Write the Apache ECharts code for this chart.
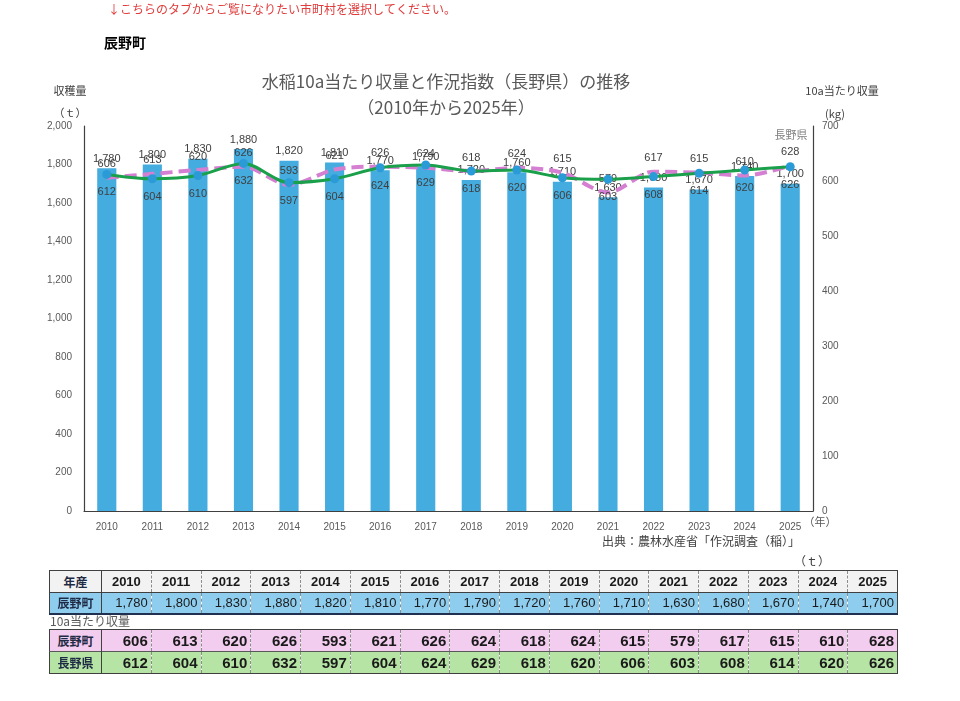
<!DOCTYPE html>
<html>
<head>
<meta charset="utf-8">
<script src="https://cdn.jsdelivr.net/npm/echarts@6/dist/echarts.min.js"></script>
<style>
  html, body { margin:0; padding:0; background:#fff; }
  #chart { position:absolute; left:0; top:0; width:960px; height:701px; }
  #tbl1, #tbl2 { position:absolute; left:49px; border-collapse:collapse; table-layout:fixed; font-family:"Liberation Sans Narrow","Liberation Sans","Noto Sans CJK JP",sans-serif; }
  #tbl1 { top:570px; }
  #tbl2 { top:629px; }
  td { padding:0 3px; box-sizing:border-box; white-space:nowrap; overflow:hidden; }
  td.lab { font-family:"Noto Sans CJK JP",sans-serif; font-weight:bold; text-align:center; font-size:12px; color:#1f2a44; border-right:1px solid #404040; }
  #lab10a { position:absolute; left:50px; top:612px; font-family:"Noto Sans CJK JP",sans-serif; font-size:12px; color:#595959; }
</style>
</head>
<body>
<div id="chart"></div>
<div id="lab10a">10a当たり収量</div>
<table id="tbl1"></table>
<table id="tbl2"></table>
<script>
const years = ['2010','2011','2012','2013','2014','2015','2016','2017','2018','2019','2020','2021','2022','2023','2024','2025'];
const harvest = [1780,1800,1830,1880,1820,1810,1770,1790,1720,1760,1710,1630,1680,1670,1740,1700];
const tatsunoYield = [606,613,620,626,593,621,626,624,618,624,615,579,617,615,610,628];
const naganoYield = [612,604,610,632,597,604,624,629,618,620,606,603,608,614,620,626];
const leftTicks = [0,200,400,600,800,1000,1200,1400,1600,1800,2000];
const rightTicks = [0,100,200,300,400,500,600,700];

const fmt = v => v.toLocaleString('en-US');
const jp = '"Noto Sans CJK JP", sans-serif';
const num = '"Liberation Sans", "Noto Sans CJK JP", sans-serif';

const chart = echarts.init(document.getElementById('chart'), null, {renderer:'canvas'});
chart.setOption({
  animation:false,
  grid:{left:84, right:147, top:126, bottom:190},
  xAxis:{
    type:'category', data:years, boundaryGap:true,
    axisLine:{lineStyle:{color:'#404040', width:1.2}},
    axisTick:{show:false},
    axisLabel:{color:'#595959', fontSize:10, margin:11, fontFamily:num}
  },
  yAxis:[
    {type:'value', min:leftTicks[0], max:leftTicks[leftTicks.length-1], interval:200,
     axisLine:{show:true, lineStyle:{color:'#404040', width:1.2}},
     axisTick:{show:false}, splitLine:{show:false},
     axisLabel:{color:'#595959', fontSize:10, margin:12, fontFamily:num, formatter:v=>fmt(v)}},
    {type:'value', min:rightTicks[0], max:rightTicks[rightTicks.length-1], interval:100, position:'right',
     axisLine:{show:true, lineStyle:{color:'#404040', width:1.2}},
     axisTick:{show:false}, splitLine:{show:false},
     axisLabel:{color:'#595959', fontSize:10, margin:9, fontFamily:num}}
  ],
  series:[
    {name:'辰野町収穫量', type:'bar', data:harvest, barWidth:'42%', yAxisIndex:0,
     itemStyle:{color:'#45ACDF'},
     label:{show:true, position:'top', distance:4, color:'#404040', fontSize:11, fontFamily:num, formatter:p=>fmt(p.value)}, z:1},
    {name:'辰野町10a', type:'line', data:tatsunoYield, yAxisIndex:1, smooth:0.3,
     showSymbol:true, symbol:'circle', symbolSize:2,
     itemStyle:{color:'rgba(212,127,209,0)', borderWidth:0},
     lineStyle:{color:'#D47FD1', width:4, type:[12,6]},
     label:{show:true, position:'top', distance:7, color:'#404040', fontSize:11, fontFamily:num, formatter:p=>String(p.value)}, z:3},
    {name:'長野県10a', type:'line', data:naganoYield, yAxisIndex:1, smooth:0.3,
     symbol:'circle', symbolSize:9, showSymbol:true,
     itemStyle:{color:'#2A9BD7'},
     lineStyle:{color:'#1AA04A', width:3},
     label:{show:true, position:'bottom', distance:8, color:'#404040', fontSize:11, fontFamily:num}, z:4}
  ],
  graphic:[
    {type:'text', left:108, top:3, style:{text:'↓こちらのタブからご覧になりたい市町村を選択してください。', fill:'#E03C3C', font:'12px '+jp}},
    {type:'text', left:104, top:36, style:{text:'辰野町', fill:'#000', font:'bold 14px '+jp}},
    {type:'text', x:446, y:82, style:{text:'水稲10a当たり収量と作況指数（長野県）の推移', fill:'#595959', font:'17px '+jp, align:'center', verticalAlign:'middle'}},
    {type:'text', x:446, y:108, style:{text:'（2010年から2025年）', fill:'#595959', font:'17px '+jp, align:'center', verticalAlign:'middle'}},
    {type:'text', x:70, y:91, style:{text:'収穫量', fill:'#404040', font:'11px '+jp, align:'center', verticalAlign:'middle'}},
    {type:'text', x:70, y:113, style:{text:'（ｔ）', fill:'#404040', font:'11px '+jp, align:'center', verticalAlign:'middle'}},
    {type:'text', x:842, y:91, style:{text:'10a当たり収量', fill:'#404040', font:'11px '+jp, align:'center', verticalAlign:'middle'}},
    {type:'text', x:835, y:114, style:{text:'(kg)', fill:'#404040', font:'11px '+jp, align:'center', verticalAlign:'middle'}},
    {type:'text', x:791, y:135, style:{text:'長野県', fill:'#7f7f7f', font:'11px '+jp, align:'center', verticalAlign:'middle'}},
    {type:'text', x:820, y:522, style:{text:'（年）', fill:'#595959', font:'11px '+jp, align:'center', verticalAlign:'middle'}},
    {type:'text', x:701, y:541, style:{text:'出典：農林水産省「作況調査（稲）」', fill:'#404040', font:'12px '+jp, align:'center', verticalAlign:'middle'}},
    {type:'text', x:812, y:561, style:{text:'（ｔ）', fill:'#404040', font:'12px '+jp, align:'center', verticalAlign:'middle'}}
  ]
});

// tables
const firstW = 52, colW = 49.75;
function colgroup(){ let s='<colgroup><col style="width:'+firstW+'px">'; years.forEach(()=>{ s+='<col style="width:'+colW+'px">'; }); return s+'</colgroup>'; }
function row(label, vals, opt){
  let s='<tr style="height:'+opt.h+'px;background:'+opt.bg+';'+(opt.trStyle||'')+'">';
  s+='<td class="lab">'+label+'</td>';
  vals.forEach((v,i)=>{
    const last = i===vals.length-1;
    s+='<td style="text-align:'+opt.align+';font-size:'+opt.fs+'px;font-weight:'+opt.fw+';color:#1a1a1a;border-right:'+(last?'1px solid #404040':'1px dashed #8c8c8c')+';">'+opt.f(v)+'</td>';
  });
  return s+'</tr>';
}
const t1 = document.getElementById('tbl1');
t1.style.width = (firstW + colW*years.length)+'px';
t1.style.border = '1px solid #404040';
t1.innerHTML = colgroup() +
  row('年産', years, {h:22, bg:'#F2F2F2', align:'center', fs:13, fw:'bold', f:v=>v, trStyle:'border-bottom:1px solid #404040;'}) +
  row('辰野町', harvest, {h:21, bg:'#8FCDEE', align:'right', fs:13, fw:'normal', f:fmt, trStyle:'border-bottom:2px solid #1F3050;'});
const t2 = document.getElementById('tbl2');
t2.style.width = (firstW + colW*years.length)+'px';
t2.style.border = '1px solid #404040';
t2.innerHTML = colgroup() +
  row('辰野町', tatsunoYield, {h:22, bg:'#F3CDF0', align:'right', fs:15, fw:'bold', f:v=>v, trStyle:'border-bottom:1px solid #595959;'}) +
  row('長野県', naganoYield, {h:22, bg:'#B6E4A4', align:'right', fs:15, fw:'bold', f:v=>v});
</script>
</body>
</html>
